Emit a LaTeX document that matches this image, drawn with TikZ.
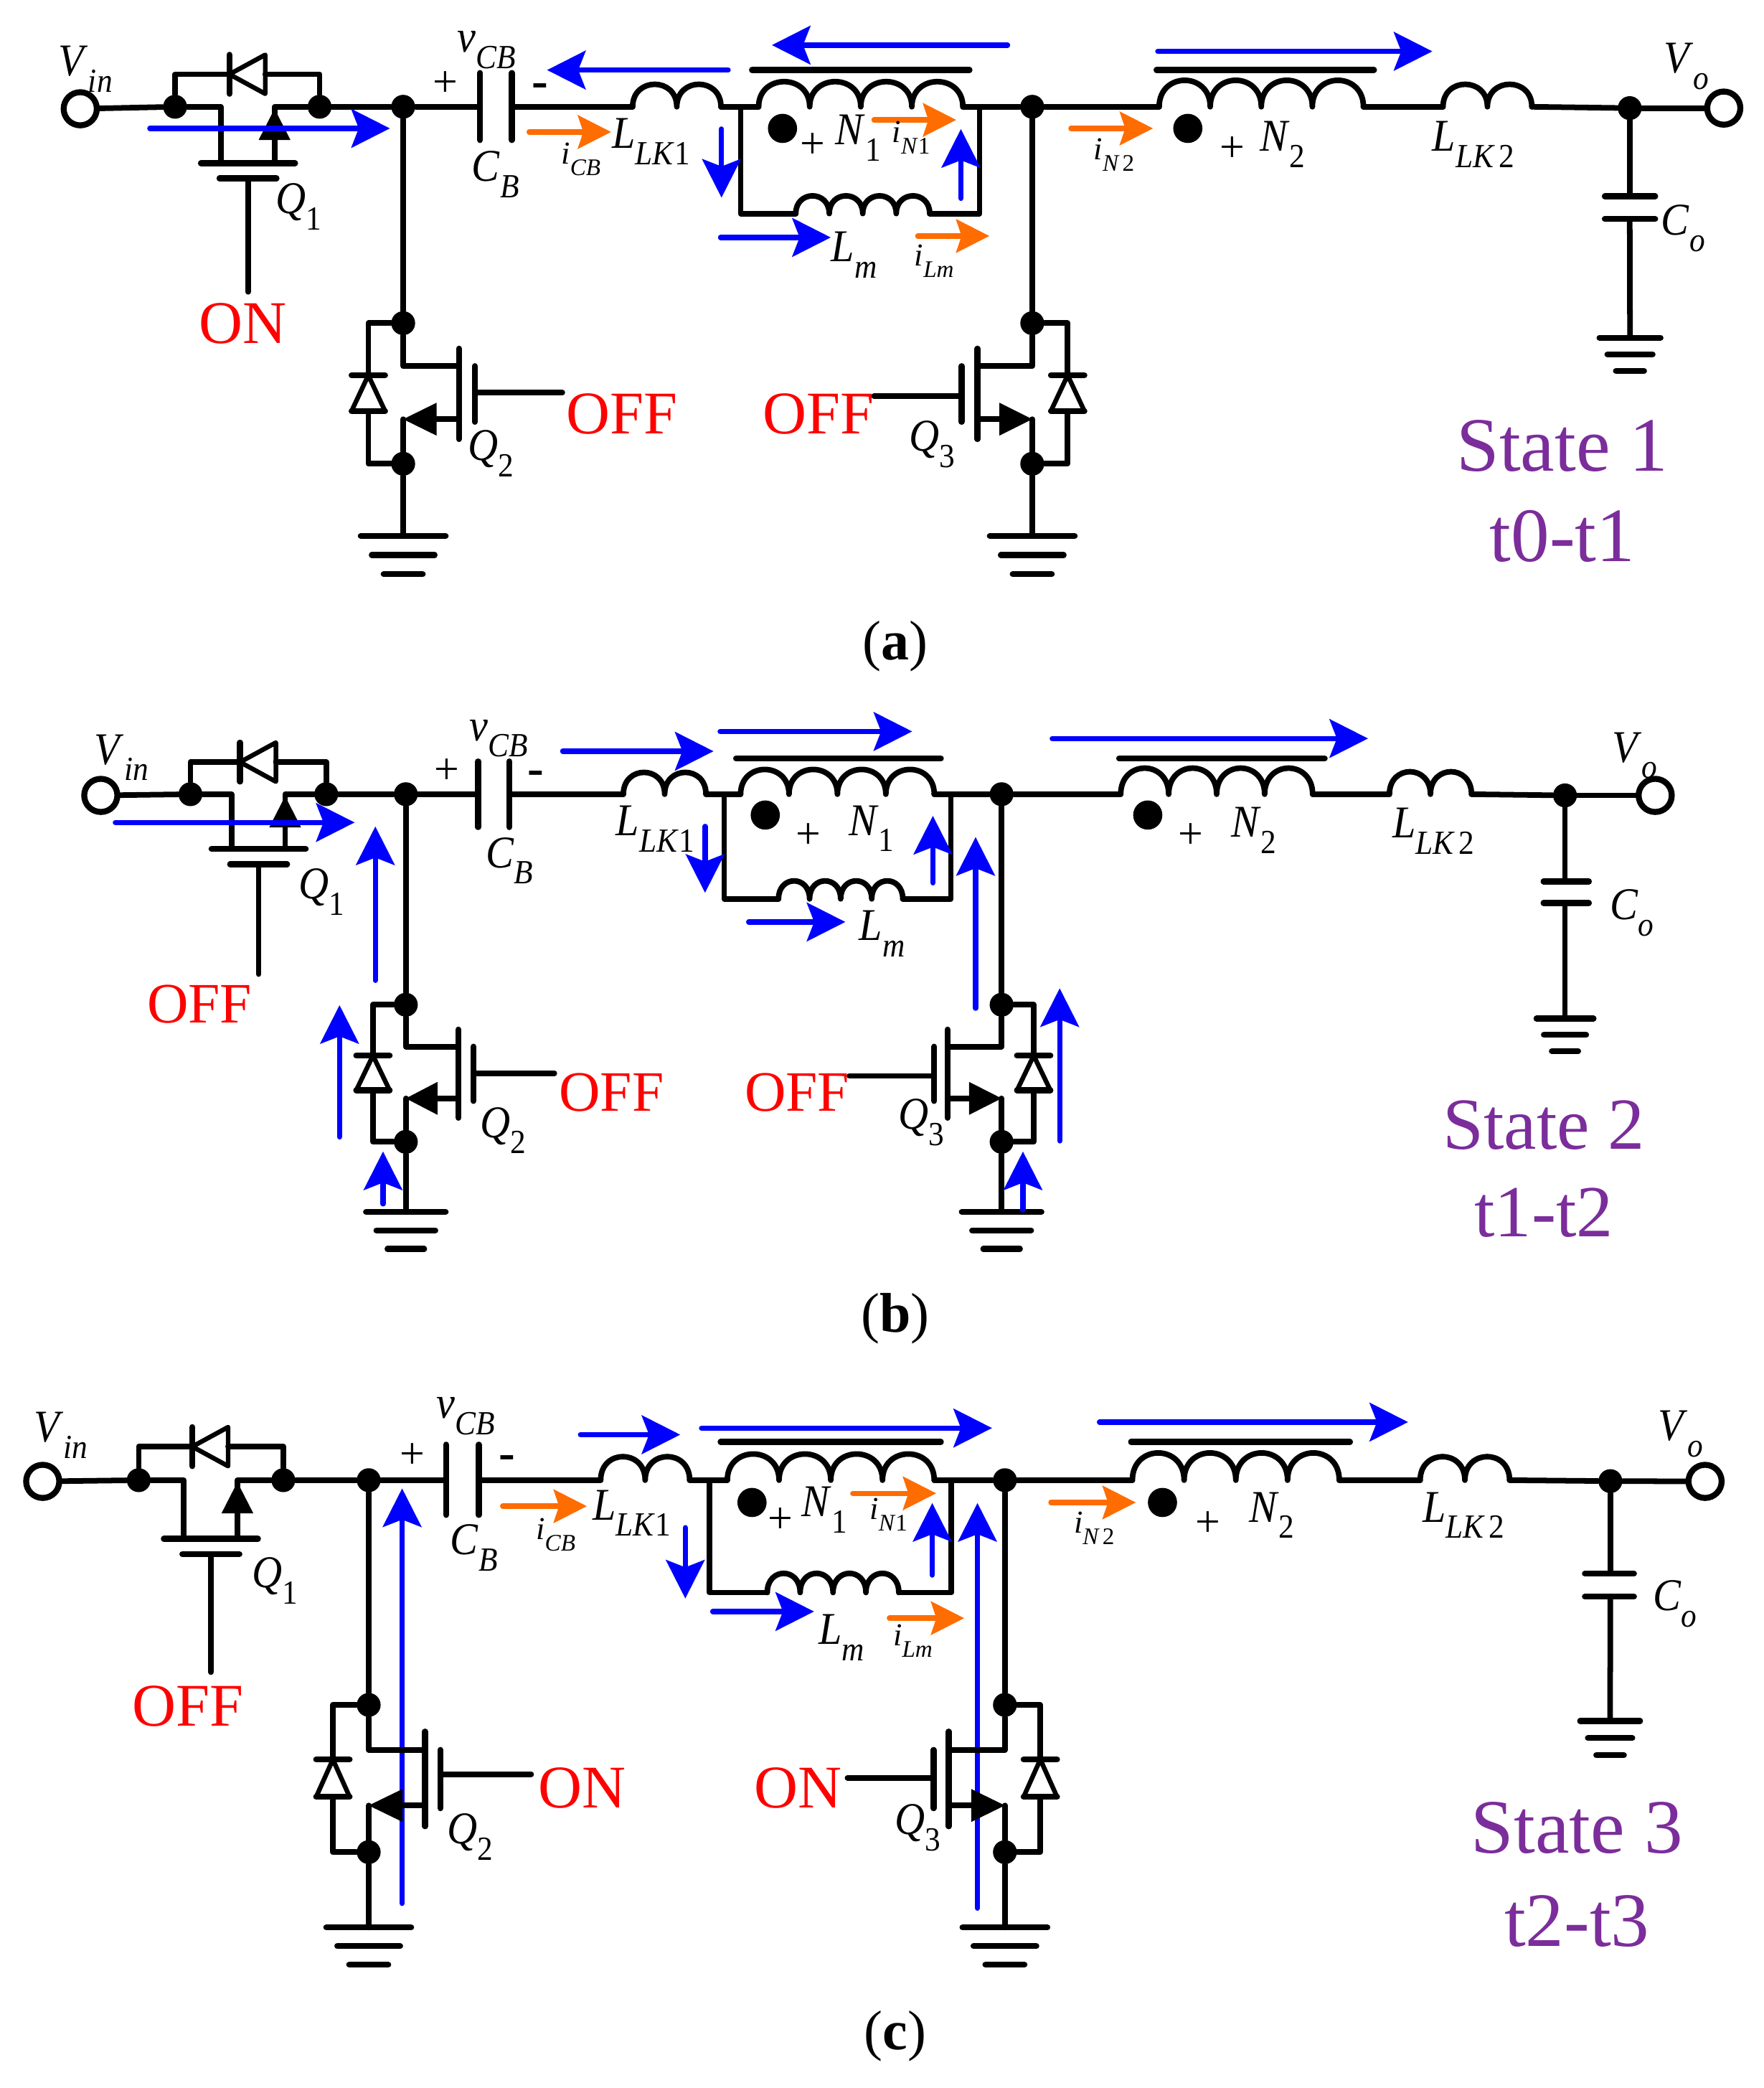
\documentclass[tikz,border=0pt]{standalone}
\usepackage{fontspec}
\usepackage{graphicx}
\setmainfont{Liberation Serif}
\usetikzlibrary{arrows.meta}
\definecolor{stateviolet}{HTML}{7B2D9B}
\definecolor{iorange}{HTML}{FF6C00}
\tikzset{
  wire/.style={line width=.084cm,line cap=round,line join=round},
  dio/.style={line width=.07cm,line cap=round,line join=round},
  bar/.style={line width=.09cm,line cap=round},
  junc/.style={circle,fill=black,inner sep=0pt,minimum size=.36cm},
  blob/.style={circle,fill=black,inner sep=0pt,minimum size=.44cm},
  term/.style={circle,draw=black,line width=.09cm,inner sep=0pt,minimum size=.5cm},
  flow/.style={draw=blue,line width=.08cm,line cap=round,-{Stealth[length=.58cm,width=.58cm,inset=.11cm]}},
  iflow/.style={draw=iorange,line width=.08cm,line cap=round,-{Stealth[length=.5cm,width=.5cm,inset=.08cm]}},
  lbl/.style={inner sep=0pt},
  ctl/.style={inner sep=0pt,text=red,font=\fontsize{26}{26}\selectfont},
  ctlb/.style={ctl,font=\fontsize{24.5}{24.5}\selectfont},
  statetxt/.style={inner sep=0pt,text=stateviolet,font=\fontsize{33}{33}\selectfont},
  statetxtb/.style={statetxt,font=\fontsize{31.5}{31.5}\selectfont},
  capt/.style={inner sep=0pt,font=\fontsize{24}{24}\selectfont},
  plus/.style={inner sep=0pt,font=\fontsize{19}{19}\selectfont},
  minus/.style={inner sep=0pt,font=\bfseries\fontsize{21}{21}\selectfont}
}
\newcommand{\lb}[3]{\scalebox{.92}[1]{\fontsize{19.5}{19.5}\selectfont\textit{#1}\raisebox{-.36em}{\fontsize{14.5}{14.5}\selectfont\textit{#2}#3}}}
\newcommand{\lbs}[3]{\fontsize{13.7}{13.7}\selectfont\textit{#1}\raisebox{-.36em}{\fontsize{10.2}{10.2}\selectfont\textit{#2}#3}}
% name, start, end
\newcommand{\flowarrow}[4][flow]{\coordinate (#2-s) at (#3); \coordinate (#2-e) at (#4); \draw[#1] (#2-s) -- (#2-e);}
% name, x left, x right, y, height, humps
\newcommand{\coil}[6]{
  \coordinate (#1-w) at (#2,#4);
  \coordinate (#1-e) at (#3,#4);
  \draw[wire] (#1-w) \foreach \k in {1,...,#6}{
    .. controls ({#2+(\k-1)*(#3-#2)/#6},{#4-1.33*#5}) and ({#2+\k*(#3-#2)/#6},{#4-1.33*#5}) .. ({#2+\k*(#3-#2)/#6},#4)};
}
% name, x, y, half width, gap
\newcommand{\gnd}[5]{
  \coordinate (#1) at (#2,#3);
  \draw[bar] ({#2-#4},#3) -- ({#2+#4},#3);
  \draw[bar] ({#2-.74*#4},{#3+#5}) -- ({#2+.74*#4},{#3+#5});
  \draw[bar] ({#2-.46*#4},{#3+2*#5}) -- ({#2+.46*#4},{#3+2*#5});
}
% name, x stem, x dot left, x dot right, y wire, y diode, y channel, y stem end
\newcommand{\topfet}[8]{
  \node[junc] (#1-a) at (#3,#5) {};
  \node[junc] (#1-b) at (#4,#5) {};
  \draw[wire] (#1-a) -- (#3,#6) -- ({#2-14},#6);
  \draw[wire] (#1-b) -- (#4,#6) -- ({#2+13},#6);
  \draw[bar] ({#2-14},{#6-14.7}) -- ({#2-14},{#6+14.7});
  \draw[dio] ({#2-14},#6) -- ({#2+13},{#6-14.7}) -- ({#2+13},{#6+14.7}) -- cycle;
  \draw[wire] (#1-a) -- ({#2-20.5},#5) -- ({#2-20.5},#7);
  \draw[bar] ({#2-35.5},#7) -- ({#2+35.5},#7);
  \draw[bar] ({#2-21.5},{#7+11.5}) -- ({#2+21.5},{#7+11.5});
  \coordinate (#1-g) at (#2,#8);
  \draw[wire] (#2,{#7+11.5}) -- (#1-g);
  \draw[wire] (#1-b) -- ({#2+20},#5) -- ({#2+20},#7);
  \fill ({#2+20},{#5+1.5}) -- ({#2+32},{#5+25}) -- ({#2+8},{#5+25}) -- cycle;
}
% name, x wire, x channel, x plate, x lead end, x diode, y top dot, stretch, lead offset
\newcommand{\lowfet}[9]{
  \node[junc] (#1-top) at (#2,#7) {};
  \node[junc] (#1-low) at (#2,{#7+106*#8}) {};
  \coordinate (#1-drain) at (#2,{#7+32.4*#8});
  \coordinate (#1-src) at (#2,{#7+72.4*#8});
  \coordinate (#1-lead) at (#5,{#7+#9*#8});
  \draw[wire] (#1-top) -- (#1-drain) -- (#3,{#7+32.4*#8});
  \draw[bar] (#3,{#7+19.2*#8}) -- (#3,{#7+87.4*#8});
  \draw[bar] (#4,{#7+32.4*#8}) -- (#4,{#7+74.4*#8});
  \draw[wire] (#1-lead) -- (#4,{#7+#9*#8});
  \draw[wire] (#3,{#7+72.4*#8}) -- ({#2+.6*(#3-#2)},{#7+72.4*#8});
  \fill (#1-src) -- ({#2+.6*(#3-#2)},{#7+72.4*#8-12.4}) -- ({#2+.6*(#3-#2)},{#7+72.4*#8+12.4}) -- cycle;
  \draw[wire] (#1-src) -- (#1-low);
  \draw[wire] (#1-top) -- (#6,#7) -- (#6,{#7+39.3*#8});
  \draw[bar] ({#6-12.6},{#7+39.3*#8}) -- ({#6+12.6},{#7+39.3*#8});
  \draw[dio] (#6,{#7+39.3*#8}) -- ({#6-12.6},{#7+66.2*#8}) -- ({#6+12.6},{#7+66.2*#8}) -- cycle;
  \draw[bar] ({#6-12.6},{#7+66.2*#8}) -- ({#6+12.6},{#7+66.2*#8});
  \draw[wire] (#6,{#7+66.2*#8}) -- (#6,{#7+106*#8}) -- (#1-low);
}
\begin{document}
\begin{tikzpicture}[x=.02cm,y=-.02cm]
\useasboundingbox (0,0) rectangle (1330,1574);

% state 1
\node[term] (a-vin) at (60.5,82) {};
\node[term] (a-vo) at (1299.7,81.5) {};
\topfet{a-q1}{187}{132}{241}{80.5}{56}{123}{220}
\node[junc] (a-mid) at (304,80.5) {};
\node[junc] (a-sw) at (778.3,80.5) {};
\node[junc] (a-out) at (1228.8,81.5) {};
\lowfet{a-q2}{304}{346}{358}{424}{277.7}{243.6}{1}{52.4}
\lowfet{a-q3}{778.3}{737}{725}{659}{805}{243.6}{1}{55}
\gnd{a-g2}{304}{404}{32}{14.4}
\gnd{a-g3}{778.3}{404}{32}{14.4}
\gnd{a-go}{1229}{254.6}{23}{12.5}
\coil{a-lk1}{477}{543.6}{80.5}{17}{2}
\coil{a-n1}{572}{726}{80.5}{19}{4}
\coil{a-lm}{600}{701}{161}{13.4}{4}
\coil{a-n2}{874}{1028}{80.5}{20}{4}
\coil{a-lk2}{1088}{1155}{80.5}{17}{2}
\coordinate (a-cbl) at (362,80.5);
\coordinate (a-cbr) at (386,80.5);
\coordinate (a-jl) at (558.4,80.5);
\coordinate (a-jr) at (738.6,80.5);
\coordinate (a-bl) at (558.4,161);
\coordinate (a-br) at (738.6,161);
\coordinate (a-cot) at (1228.8,148);
\coordinate (a-cob) at (1228.8,165);
\draw[bar] (362,55) -- (362,105.6);
\draw[bar] (386,55) -- (386,105.6);
\draw[bar] (1210,148) -- (1248,148);
\draw[bar] (1210,165) -- (1248,165);
\draw[bar] (567,52.8) -- (731,52.8);
\draw[bar] (872,52.8) -- (1036,52.8);
\draw[wire] (a-vin) -- (a-q1-a);
\draw[wire] (a-q1-b) -- (a-mid);
\draw[wire] (a-mid) -- (a-cbl);
\draw[wire] (a-cbr) -- (a-lk1-w);
\draw[wire] (a-lk1-e) -- (a-n1-w);
\draw[wire] (a-n1-e) -- (a-sw);
\draw[wire] (a-sw) -- (a-n2-w);
\draw[wire] (a-n2-e) -- (a-lk2-w);
\draw[wire] (a-lk2-e) -- (a-out);
\draw[wire] (a-out) -- (a-vo);
\draw[wire] (a-mid) -- (a-q2-top);
\draw[wire] (a-sw) -- (a-q3-top);
\draw[wire] (a-jl) -- (a-bl) -- (a-lm-w);
\draw[wire] (a-lm-e) -- (a-br) -- (a-jr);
\draw[wire] (a-q2-low) -- (a-g2);
\draw[wire] (a-q3-low) -- (a-g3);
\draw[wire] (a-out) -- (a-cot);
\draw[wire] (a-cob) -- (a-go);
\node[blob] (a-dot1) at (590,96.8) {};
\node[blob] (a-dot2) at (895.6,96.8) {};
\flowarrow{a-f1}{113,96.8}{294,96.8}
\flowarrow{a-f2}{549,52.8}{412.5,52.8}
\flowarrow{a-f3}{759.7,34}{582,34}
\flowarrow{a-f4}{873,38.7}{1080,38.7}
\flowarrow{a-f5}{544,97.3}{544,149}
\flowarrow{a-f6}{724.5,149.5}{724.5,97.3}
\flowarrow{a-f7}{543.3,179}{626.4,179}
\flowarrow[iflow]{a-i1}{399,99.5}{460.8,99.5}
\flowarrow[iflow]{a-i2}{659,90.4}{721,90.4}
\flowarrow[iflow]{a-i3}{692,177.9}{746,177.9}
\flowarrow[iflow]{a-i4}{807.5,96.8}{869.4,96.8}
\node[lbl] (a-tvin) at (64.5,52) {\lb{V}{in}{}};
\node[lbl] (a-tvcb) at (367,37.6) {\lb{v}{CB}{}};
\node[plus] (a-tp1) at (336,63.5) {+};
\node[minus] (a-tm1) at (407,68) {-};
\node[lbl] (a-tcb) at (373.6,131.7) {\lb{C}{B}{}};
\node[lbl] (a-tlk1) at (491,106.9) {\lb{L}{LK}{1}};
\node[lbl] (a-ticb) at (438,120) {\lbs{i}{CB}{}};
\node[lbl] (a-tq1) at (225,156) {\lb{Q}{}{1}};
\node[lbl] (a-tq2) at (370,342) {\lb{Q}{}{2}};
\node[lbl] (a-tq3) at (703,335) {\lb{Q}{}{3}};
\node[plus] (a-tp2) at (613,109.7) {+};
\node[lbl] (a-tn1) at (647,104) {\lb{N}{}{1}};
\node[lbl] (a-tin1) at (687,103.6) {\lbs{i}{N}{1}};
\node[lbl] (a-tlm) at (644,192) {\lb{L}{m}{}};
\node[lbl] (a-tilm) at (704.4,197) {\lbs{i}{Lm}{}};
\node[lbl] (a-tin2) at (840,116.6) {\lbs{i}{N\,}{2}};
\node[plus] (a-tp3) at (929,112.4) {+};
\node[lbl] (a-tn2) at (967,108.9) {\lb{N}{}{2}};
\node[lbl] (a-tlk2) at (1111,108.9) {\lb{L}{LK\,}{2}};
\node[lbl] (a-tvo) at (1271.6,50) {\lb{V}{o}{}};
\node[lbl] (a-tco) at (1269,172) {\lb{C}{o}{}};
\node[ctl] (a-c1) at (183,244) {ON};
\node[ctl] (a-c2) at (469,312) {OFF};
\node[ctl] (a-c3) at (617,312) {OFF};
\node[statetxt] (a-st1) at (1178,336) {State 1};
\node[statetxt] (a-st2) at (1178,404) {t0-t1};
\node[capt] (a-cap) at (675,487) {(\textbf{a})};

% state 2
\node[term] (b-vin) at (76,599.6) {};
\node[term] (b-vo) at (1248,599.6) {};
\topfet{b-q1}{195}{143.6}{246}{598.7}{574.5}{640}{734.3}
\node[junc] (b-mid) at (306,598.7) {};
\node[junc] (b-sw) at (755.2,598.7) {};
\node[junc] (b-out) at (1180,599.6) {};
\lowfet{b-q2}{306}{345.7}{357}{418}{281.2}{757.4}{.975}{52.9}
\lowfet{b-q3}{755.2}{714.4}{704.4}{640.4}{779.4}{757.4}{.975}{55}
\gnd{b-g2}{306}{913.5}{30}{14}
\gnd{b-g3}{755.2}{913.5}{30}{14}
\gnd{b-go}{1180}{767.8}{21.5}{12.3}
\coil{b-lk1}{470}{532.3}{598.7}{16.5}{2}
\coil{b-n1}{558.4}{704.4}{598.7}{18.7}{4}
\coil{b-lm}{587}{680.7}{677.6}{13.6}{4}
\coil{b-n2}{845}{989.7}{598.7}{19.7}{4}
\coil{b-lk2}{1047.6}{1109.5}{598.7}{17}{2}
\coordinate (b-cbl) at (360.5,598.7);
\coordinate (b-cbr) at (384,598.7);
\coordinate (b-jl) at (546,598.7);
\coordinate (b-jr) at (717,598.7);
\coordinate (b-bl) at (546,677.6);
\coordinate (b-br) at (717,677.6);
\coordinate (b-cot) at (1180,664.5);
\coordinate (b-cob) at (1180,680.7);
\draw[bar] (360.5,574) -- (360.5,623.5);
\draw[bar] (384,574) -- (384,623.5);
\draw[bar] (1163.8,664.5) -- (1198,664.5);
\draw[bar] (1163.8,680.7) -- (1198,680.7);
\draw[bar] (555,571.8) -- (709.4,571.8);
\draw[bar] (843.8,571.8) -- (998.8,571.8);
\draw[wire] (b-vin) -- (b-q1-a);
\draw[wire] (b-q1-b) -- (b-mid);
\draw[wire] (b-mid) -- (b-cbl);
\draw[wire] (b-cbr) -- (b-lk1-w);
\draw[wire] (b-lk1-e) -- (b-n1-w);
\draw[wire] (b-n1-e) -- (b-sw);
\draw[wire] (b-sw) -- (b-n2-w);
\draw[wire] (b-n2-e) -- (b-lk2-w);
\draw[wire] (b-lk2-e) -- (b-out);
\draw[wire] (b-out) -- (b-vo);
\draw[wire] (b-mid) -- (b-q2-top);
\draw[wire] (b-sw) -- (b-q3-top);
\draw[wire] (b-jl) -- (b-bl) -- (b-lm-w);
\draw[wire] (b-lm-e) -- (b-br) -- (b-jr);
\draw[wire] (b-q2-low) -- (b-g2);
\draw[wire] (b-q3-low) -- (b-g3);
\draw[wire] (b-out) -- (b-cot);
\draw[wire] (b-cob) -- (b-go);
\node[blob] (b-dot1) at (577,614.4) {};
\node[blob] (b-dot2) at (865.4,614.4) {};
\flowarrow{b-f1}{87,620}{267.4,620}
\flowarrow{b-f2}{424.3,566.3}{538,566.3}
\flowarrow{b-f3}{543,551.4}{687.8,551.4}
\flowarrow{b-f4}{793.4,556.7}{1031.5,556.7}
\flowarrow{b-f5}{531.6,623}{531.6,673}
\flowarrow{b-f6}{703.4,665.5}{703.4,615}
\flowarrow{b-f7}{564.5,695}{637.4,695}
\flowarrow{b-f8}{283,739}{283,623}
\flowarrow{b-f9}{256,857}{256,757.7}
\flowarrow{b-f10}{288.8,907.5}{288.8,868}
\flowarrow{b-f11}{735.6,760}{735.6,631}
\flowarrow{b-f12}{799,860}{799,745}
\flowarrow{b-f13}{771.3,912}{771.3,868}
\node[lbl] (b-tvin) at (91.6,571) {\lb{V}{in}{}};
\node[lbl] (b-tvcb) at (376,556.7) {\lb{v}{CB}{}};
\node[plus] (b-tp1) at (336.8,581.7) {+};
\node[minus] (b-tm1) at (403.7,586.4) {-};
\node[lbl] (b-tcb) at (384,648.8) {\lb{C}{B}{}};
\node[lbl] (b-tlk1) at (494,625) {\lb{L}{LK}{1}};
\node[lbl] (b-tq1) at (242.6,672.4) {\lb{Q}{}{1}};
\node[lbl] (b-tq2) at (379.5,852.2) {\lb{Q}{}{2}};
\node[lbl] (b-tq3) at (694.8,846) {\lb{Q}{}{3}};
\node[plus] (b-tp2) at (609.7,630.4) {+};
\node[lbl] (b-tn1) at (657,624.6) {\lb{N}{}{1}};
\node[lbl] (b-tlm) at (665,703.8) {\lb{L}{m}{}};
\node[plus] (b-tp3) at (898,630.4) {+};
\node[lbl] (b-tn2) at (945.4,626) {\lb{N}{}{2}};
\node[lbl] (b-tlk2) at (1080.8,626.5) {\lb{L}{LK\,}{2}};
\node[lbl] (b-tvo) at (1232.8,569.6) {\lb{V}{o}{}};
\node[lbl] (b-tco) at (1230.3,688) {\lb{C}{o}{}};
\node[ctlb] (b-c1) at (150.5,757) {OFF};
\node[ctlb] (b-c2) at (461,823.5) {OFF};
\node[ctlb] (b-c3) at (601,823.5) {OFF};
\node[statetxtb] (b-st1) at (1164,848) {State 2};
\node[statetxtb] (b-st2) at (1164,914) {t1-t2};
\node[capt] (b-cap) at (675,994) {(\textbf{b})};

% state 3
\flowarrow{c-f8}{303.2,1434.8}{303.2,1122}
\flowarrow{c-f9}{737,1438.4}{737,1133}
\node[term] (c-vin) at (32.2,1116.7) {};
\node[term] (c-vo) at (1285.6,1116.7) {};
\topfet{c-q1}{159}{104.6}{213.6}{1115.8}{1090.5}{1160}{1260.5}
\node[junc] (c-mid) at (278,1115.8) {};
\node[junc] (c-sw) at (757.7,1115.8) {};
\node[junc] (c-out) at (1214.2,1116.5) {};
\lowfet{c-q2}{278}{320.5}{332}{400.5}{251}{1285.2}{1.047}{49.9}
\lowfet{c-q3}{757.7}{715.4}{703.9}{639}{784.4}{1285.2}{1.047}{52.5}
\gnd{c-g2}{278}{1453}{32}{14}
\gnd{c-g3}{757.7}{1453}{32}{14}
\gnd{c-go}{1214}{1297.3}{22.6}{12.9}
\coil{c-lk1}{452.9}{520}{1115.8}{17.8}{2}
\coil{c-n1}{548.4}{704.4}{1115.8}{19.8}{4}
\coil{c-lm}{578.5}{677.7}{1200.5}{14.5}{4}
\coil{c-n2}{853.8}{1009.8}{1115.8}{20.6}{4}
\coil{c-lk2}{1070.8}{1138.2}{1115.8}{17.8}{2}
\coordinate (c-cbl) at (336.3,1115.8);
\coordinate (c-cbr) at (361,1115.8);
\coordinate (c-jl) at (535,1115.8);
\coordinate (c-jr) at (717.4,1115.8);
\coordinate (c-bl) at (535,1200.5);
\coordinate (c-br) at (717.4,1200.5);
\coordinate (c-cot) at (1214.2,1186.2);
\coordinate (c-cob) at (1214.2,1203.6);
\draw[bar] (336.3,1089) -- (336.3,1142);
\draw[bar] (361,1089) -- (361,1142);
\draw[bar] (1195,1186.2) -- (1232,1186.2);
\draw[bar] (1195,1203.6) -- (1232,1203.6);
\draw[bar] (543.3,1087) -- (709.4,1087);
\draw[bar] (852.8,1087) -- (1017.9,1087);
\draw[wire] (c-vin) -- (c-q1-a);
\draw[wire] (c-q1-b) -- (c-mid);
\draw[wire] (c-mid) -- (c-cbl);
\draw[wire] (c-cbr) -- (c-lk1-w);
\draw[wire] (c-lk1-e) -- (c-n1-w);
\draw[wire] (c-n1-e) -- (c-sw);
\draw[wire] (c-sw) -- (c-n2-w);
\draw[wire] (c-n2-e) -- (c-lk2-w);
\draw[wire] (c-lk2-e) -- (c-out);
\draw[wire] (c-out) -- (c-vo);
\draw[wire] (c-mid) -- (c-q2-top);
\draw[wire] (c-sw) -- (c-q3-top);
\draw[wire] (c-jl) -- (c-bl) -- (c-lm-w);
\draw[wire] (c-lm-e) -- (c-br) -- (c-jr);
\draw[wire] (c-q2-low) -- (c-g2);
\draw[wire] (c-q3-low) -- (c-g3);
\draw[wire] (c-out) -- (c-cot);
\draw[wire] (c-cob) -- (c-go);
\node[blob] (c-dot1) at (567,1132.6) {};
\node[blob] (c-dot2) at (876.5,1132.6) {};
\flowarrow{c-f2}{437.7,1081.5}{512.9,1081.5}
\flowarrow{c-f3}{529,1076.5}{748,1076.5}
\flowarrow{c-f4}{829,1072}{1061.7,1072}
\flowarrow{c-f5}{516.7,1151.6}{516.7,1205}
\flowarrow{c-f6}{702.9,1187.3}{702.9,1133}
\flowarrow{c-f7}{537.4,1214.8}{613.8,1214.8}
\flowarrow[iflow]{c-i1}{379,1135.4}{442.5,1135.4}
\flowarrow[iflow]{c-i2}{643,1125.7}{705.9,1125.7}
\flowarrow[iflow]{c-i3}{670.6,1219.8}{727,1219.8}
\flowarrow[iflow]{c-i4}{792.4,1132.6}{856.4,1132.6}
\node[lbl] (c-tvin) at (46,1082) {\lb{V}{in}{}};
\node[lbl] (c-tvcb) at (351,1067.7) {\lb{v}{CB}{}};
\node[plus] (c-tp1) at (310.8,1097.4) {+};
\node[minus] (c-tm1) at (382.5,1102.4) {-};
\node[lbl] (c-tcb) at (357.4,1166.7) {\lb{C}{B}{}};
\node[lbl] (c-tlk1) at (476.3,1140.6) {\lb{L}{LK}{1}};
\node[lbl] (c-ticb) at (419,1156.8) {\lbs{i}{CB}{}};
\node[lbl] (c-tq1) at (207.4,1191.5) {\lb{Q}{}{1}};
\node[lbl] (c-tq2) at (354.3,1384.5) {\lb{Q}{}{2}};
\node[lbl] (c-tq3) at (691.8,1377.9) {\lb{Q}{}{3}};
\node[plus] (c-tp2) at (588.6,1146) {+};
\node[lbl] (c-tn1) at (621.8,1138) {\lb{N}{}{1}};
\node[lbl] (c-tin1) at (670,1141.7) {\lbs{i}{N}{1}};
\node[lbl] (c-tlm) at (634.4,1234.4) {\lb{L}{m}{}};
\node[lbl] (c-tilm) at (688.3,1237) {\lbs{i}{Lm}{}};
\node[lbl] (c-tin2) at (825,1151.9) {\lbs{i}{N\,}{2}};
\node[plus] (c-tp3) at (910.7,1149) {+};
\node[lbl] (c-tn2) at (959,1142.2) {\lb{N}{}{2}};
\node[lbl] (c-tlk2) at (1103.5,1142.2) {\lb{L}{LK\,}{2}};
\node[lbl] (c-tvo) at (1267,1081) {\lb{V}{o}{}};
\node[lbl] (c-tco) at (1263,1209) {\lb{C}{o}{}};
\node[ctl] (c-c1) at (141.5,1286.3) {OFF};
\node[ctl] (c-c2) at (438.7,1347.6) {ON};
\node[ctl] (c-c3) at (601.7,1347.6) {ON};
\node[statetxt] (c-st1) at (1189,1378) {State 3};
\node[statetxt] (c-st2) at (1189,1448) {t2-t3};
\node[capt] (c-cap) at (675,1535) {(\textbf{c})};
\end{tikzpicture}
\end{document}
